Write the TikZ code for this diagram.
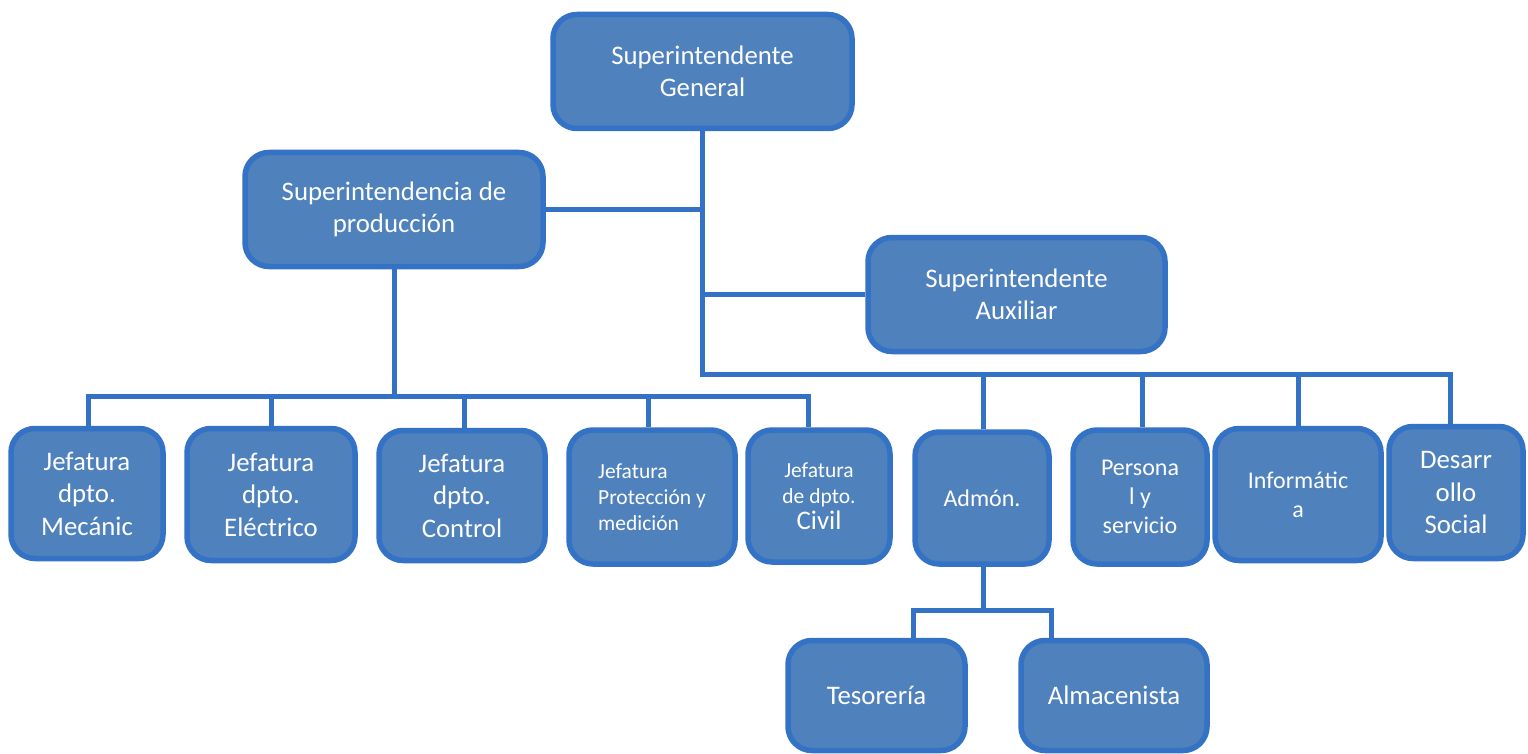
\documentclass[tikz,border=0pt]{standalone}
\usepackage{fontspec}
\setmainfont{Carlito}
\definecolor{boxfill}{RGB}{79,129,189}
\definecolor{boxline}{RGB}{51,114,196}
\newcommand{\fA}{\fontsize{26.8}{32.5}\selectfont}
\newcommand{\fB}{\fontsize{24}{29}\selectfont}
\newcommand{\fC}{\fontsize{21.5}{26}\selectfont}
\begin{document}
\begin{tikzpicture}[x=1pt,y=-1pt,
  box/.style={draw=boxline, fill=boxfill, line width=5.5pt, rounded corners=24pt,
    text=white, align=center, inner sep=0pt, font=\fA},
  conn/.style={draw=boxline, line width=5pt}]
\useasboundingbox (0,0) rectangle (1528,754);
% top levels
\node[box, minimum width=299pt, minimum height=114pt] (sg) at (702.5,71.5) {Superintendente\\General};
\node[box, minimum width=298pt, minimum height=114pt] (sp) at (394,209.5) {Superintendencia de\\producción};
\node[box, minimum width=297pt, minimum height=114pt] (sa) at (1016.5,294.5) {Superintendente\\Auxiliar};
% jefaturas
\node[box, minimum width=152pt, minimum height=130pt] (j1) at (87,493.5) {Jefatura\\dpto.\\Mecánic};
\node[box, minimum width=168pt, minimum height=132pt] (j2) at (271,494.5) {Jefatura\\dpto.\\Eléctrico};
\node[box, minimum width=166pt, minimum height=130pt] (j3) at (462,495.5) {Jefatura\\dpto.\\Control};
\node[box, minimum width=166pt, minimum height=134pt, align=left, font=\fC] (j4) at (652,497) {Jefatura\\Protección y\\medición};
\node[box, minimum width=142pt, minimum height=132pt, font=\fC] (j5) at (819,496) {Jefatura\\de dpto.\\{\fA Civil}};
% auxiliar dependencies
\node[box, minimum width=134pt, minimum height=132pt, font=\fB] (ad) at (982,498) {Admón.};
\node[box, minimum width=134pt, minimum height=134pt, font=\fB] (pe) at (1140,497) {Persona\\l y\\servicio};
\node[box, minimum width=166pt, minimum height=132pt, font=\fB] (in) at (1298,494.5) {Informátic\\a};
\node[box, minimum width=134pt, minimum height=132pt] (ds) at (1456,492.5) {Desarr\\ollo\\Social};
% admon children
\node[box, minimum width=177pt, minimum height=110pt] (te) at (876.5,695.5) {Tesorería};
\node[box, minimum width=186pt, minimum height=110pt] (al) at (1114,695.5) {Almacenista};
% bus levels
\coordinate (rbus) at (0,374);
\coordinate (lbus) at (0,396);
\coordinate (abus) at (0,610);
% connectors
\draw[conn] (sg.south) -- (sg.south |- rbus) -| ([xshift=-6pt]ds.north);
\draw[conn] (sp.east) -- (sp.east -| sg.south);
\draw[conn] (sa.west) -- (sa.west -| sg.south);
\draw[conn] ([xshift=1pt]ad.north) -- ([xshift=1pt]ad.north |- rbus);
\draw[conn] ([xshift=2pt]pe.north) -- ([xshift=2pt]pe.north |- rbus);
\draw[conn] (in.north) -- (in.north |- rbus);
\draw[conn] (sp.south) -- (sp.south |- lbus);
\draw[conn] ([xshift=1pt]j1.north) |- ([xshift=-11pt]j5.north |- lbus) -- ([xshift=-11pt]j5.north);
\draw[conn] (j2.north) -- (j2.north |- lbus);
\draw[conn] ([xshift=2pt]j3.north) -- ([xshift=2pt]j3.north |- lbus);
\draw[conn] ([xshift=-4pt]j4.north) -- ([xshift=-4pt]j4.north |- lbus);
\draw[conn] ([xshift=1pt]ad.south) -- ([xshift=1pt]ad.south |- abus);
\draw[conn] ([xshift=37pt]te.north) |- ([xshift=-63pt]al.north |- abus) -- ([xshift=-63pt]al.north);
\end{tikzpicture}
\end{document}
